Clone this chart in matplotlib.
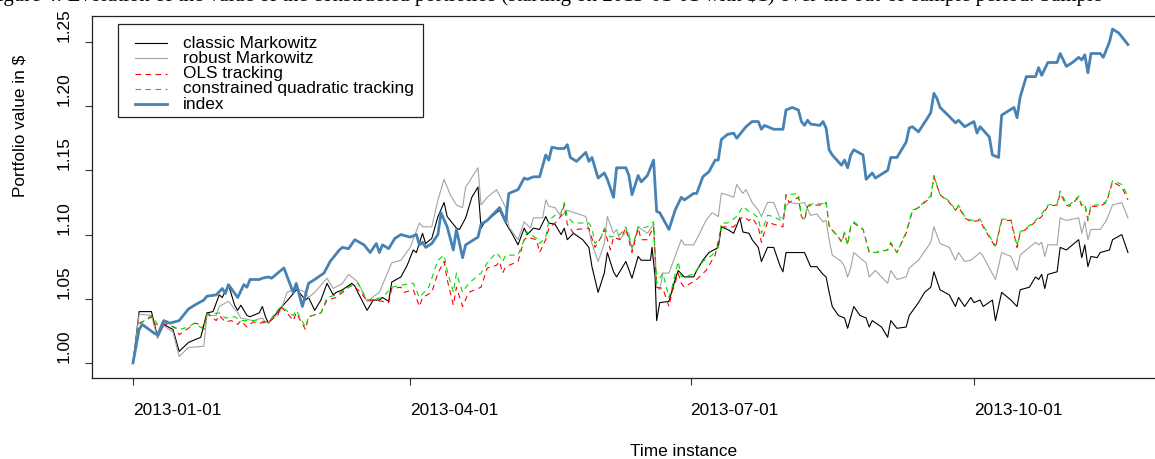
import numpy as np
import pandas as pd
import matplotlib
matplotlib.use("Agg")
import matplotlib.pyplot as plt
import matplotlib.dates as mdates
from matplotlib.patches import Rectangle
from matplotlib.lines import Line2D

plt.rcParams['font.family'] = ['Liberation Sans', 'DejaVu Sans']

# days since 2013-01-01 and portfolio values
index_days = [0, 2, 3, 7, 8, 10, 12, 15, 18, 20,
              23, 24, 27, 29, 30, 31, 34, 36, 37, 38,
              40, 41, 42, 44, 45, 49, 52, 53, 55, 57,
              59, 62, 64, 67, 68, 70, 72, 75, 77, 79,
              80, 81, 83, 85, 87, 90, 92, 93, 94, 95,
              97, 99, 100, 102, 104, 105, 107, 108, 112, 113,
              115, 119, 121, 122, 125, 127, 128, 130, 132, 134,
              135, 136, 138, 140, 141, 142, 144, 147, 148, 149,
              151, 153, 154, 156, 157, 160, 161, 162, 164, 165,
              167, 169, 170, 171, 174, 176, 178, 179, 182, 183,
              185, 187, 189, 190, 191, 193, 195, 196, 199, 201,
              203, 204, 205, 208, 211, 212, 214, 216, 217, 218,
              219, 220, 223, 224, 225, 226, 227, 230, 231, 232,
              233, 234, 237, 238, 240, 241, 245, 246, 248, 251,
              252, 253, 255, 258, 259, 260, 261, 262, 265, 267,
              268, 270, 273, 274, 275, 278, 279, 281, 282, 286,
              287, 288, 290, 293, 294, 295, 297, 300, 301, 303,
              305, 307, 308, 309, 310, 311, 314, 315, 317, 318,
              320, 323]
index_vals = [1.000, 1.026, 1.030, 1.023, 1.022, 1.033, 1.031, 1.033, 1.042, 1.045,
              1.049, 1.052, 1.053, 1.058, 1.054, 1.061, 1.051, 1.061, 1.059, 1.065,
              1.065, 1.065, 1.066, 1.067, 1.066, 1.074, 1.055, 1.062, 1.044, 1.062,
              1.065, 1.070, 1.079, 1.088, 1.090, 1.089, 1.096, 1.092, 1.086, 1.093,
              1.086, 1.092, 1.089, 1.097, 1.100, 1.098, 1.100, 1.092, 1.094, 1.090,
              1.093, 1.100, 1.117, 1.106, 1.088, 1.104, 1.082, 1.092, 1.098, 1.108,
              1.111, 1.121, 1.110, 1.132, 1.135, 1.144, 1.143, 1.145, 1.145, 1.162,
              1.158, 1.168, 1.167, 1.167, 1.170, 1.160, 1.157, 1.164, 1.157, 1.160,
              1.144, 1.148, 1.143, 1.129, 1.152, 1.152, 1.146, 1.131, 1.146, 1.141,
              1.146, 1.158, 1.118, 1.117, 1.104, 1.119, 1.129, 1.127, 1.132, 1.132,
              1.145, 1.149, 1.158, 1.158, 1.174, 1.178, 1.179, 1.175, 1.184, 1.188,
              1.188, 1.182, 1.185, 1.182, 1.182, 1.197, 1.199, 1.197, 1.188, 1.185,
              1.189, 1.186, 1.185, 1.188, 1.183, 1.166, 1.162, 1.154, 1.158, 1.152,
              1.162, 1.166, 1.162, 1.143, 1.148, 1.144, 1.150, 1.160, 1.160, 1.172,
              1.183, 1.184, 1.180, 1.191, 1.195, 1.210, 1.206, 1.199, 1.192, 1.187,
              1.189, 1.184, 1.188, 1.179, 1.184, 1.176, 1.162, 1.160, 1.193, 1.199,
              1.191, 1.207, 1.223, 1.223, 1.230, 1.224, 1.234, 1.234, 1.241, 1.231,
              1.234, 1.238, 1.236, 1.240, 1.226, 1.241, 1.241, 1.238, 1.250, 1.260,
              1.257, 1.248]

classic_days = [0, 2, 6, 8, 10, 13, 15, 18, 22, 24,
                26, 28, 29, 31, 33, 34, 35, 37, 38, 41,
                42, 43, 44, 48, 51, 53, 54, 56, 57, 59,
                61, 63, 65, 66, 68, 71, 72, 73, 76, 78,
                80, 81, 83, 84, 87, 89, 91, 92, 94, 95,
                97, 99, 101, 102, 105, 106, 108, 109, 110, 112,
                113, 114, 118, 119, 121, 123, 125, 127, 128, 130,
                132, 134, 135, 137, 139, 140, 141, 143, 146, 148,
                149, 151, 153, 154, 156, 157, 160, 162, 164, 165,
                168, 168.5, 169.5, 170, 171, 174, 176, 177, 179, 182,
                183, 185, 187, 190, 191, 193, 195, 197, 198, 200,
                201, 203, 204, 206, 208, 210, 211, 212, 214, 217,
                218, 220, 222, 224, 225, 226, 227, 229, 231, 232,
                234, 236, 238, 239, 240, 243, 245, 246, 248, 251,
                252, 255, 257, 259, 260, 262, 265, 267, 268, 270,
                272, 273, 275, 276, 279, 280, 282, 285, 287, 288,
                291, 293, 294, 295, 296, 297, 300, 301, 303, 307,
                308, 309, 310, 311, 313, 314, 317, 318, 321, 322,
                323]
classic_vals = [1.000, 1.040, 1.040, 1.020, 1.030, 1.026, 1.009, 1.016, 1.020, 1.039,
                1.040, 1.053, 1.051, 1.061, 1.045, 1.041, 1.045, 1.037, 1.036, 1.039,
                1.044, 1.036, 1.031, 1.043, 1.051, 1.057, 1.055, 1.049, 1.051, 1.041,
                1.049, 1.062, 1.053, 1.055, 1.057, 1.062, 1.060, 1.055, 1.041, 1.049,
                1.049, 1.051, 1.048, 1.063, 1.067, 1.076, 1.088, 1.086, 1.101, 1.093,
                1.097, 1.114, 1.125, 1.114, 1.105, 1.104, 1.113, 1.121, 1.129, 1.137,
                1.105, 1.109, 1.117, 1.119, 1.109, 1.101, 1.092, 1.105, 1.100, 1.105,
                1.104, 1.114, 1.109, 1.108, 1.100, 1.105, 1.096, 1.101, 1.096, 1.090,
                1.075, 1.055, 1.070, 1.086, 1.071, 1.067, 1.079, 1.066, 1.083, 1.080,
                1.080, 1.090, 1.067, 1.033, 1.047, 1.048, 1.065, 1.072, 1.067, 1.067,
                1.072, 1.080, 1.086, 1.090, 1.106, 1.104, 1.101, 1.113, 1.102, 1.101,
                1.096, 1.090, 1.079, 1.090, 1.090, 1.076, 1.071, 1.086, 1.086, 1.086,
                1.086, 1.075, 1.075, 1.069, 1.067, 1.055, 1.044, 1.037, 1.035, 1.027,
                1.044, 1.037, 1.035, 1.028, 1.033, 1.028, 1.020, 1.033, 1.027, 1.028,
                1.037, 1.047, 1.055, 1.059, 1.071, 1.057, 1.053, 1.044, 1.051, 1.044,
                1.051, 1.047, 1.049, 1.044, 1.049, 1.033, 1.055, 1.049, 1.044, 1.057,
                1.059, 1.067, 1.065, 1.069, 1.058, 1.069, 1.071, 1.090, 1.088, 1.096,
                1.082, 1.092, 1.075, 1.083, 1.082, 1.086, 1.088, 1.096, 1.100, 1.093,
                1.086]

robust_days = [0, 2, 6, 8, 10, 13, 15, 18, 23, 24,
               27, 28, 31, 34, 35, 39, 42, 43, 44, 48,
               50, 53, 56, 57, 59, 63, 65, 68, 70, 73,
               76, 80, 84, 87, 90, 93, 94, 97, 99, 101,
               103, 105, 107, 108, 112, 113, 115, 118, 121, 122,
               125, 127, 129, 130, 133, 134, 135, 137, 139, 141,
               147, 149, 151, 153, 154, 156, 157, 158, 160, 161,
               162, 164, 167, 169, 170, 171, 172, 174, 176, 178,
               179, 182, 184, 186, 188, 190, 191, 193, 195, 196,
               198, 199, 201, 203, 204, 206, 208, 210, 211, 212,
               213, 216, 218, 220, 222, 224, 225, 226, 227, 230,
               231, 232, 233, 234, 238, 239, 241, 245, 246, 248,
               251, 252, 255, 259, 260, 262, 265, 267, 268, 270,
               272, 275, 276, 280, 282, 285, 287, 288, 291, 293,
               294, 295, 296, 297, 300, 301, 303, 307, 308, 309,
               310, 311, 314, 316, 318, 321, 323]
robust_vals = [1.000, 1.038, 1.037, 1.019, 1.029, 1.024, 1.005, 1.012, 1.013, 1.037,
               1.037, 1.044, 1.048, 1.039, 1.035, 1.033, 1.035, 1.032, 1.031, 1.041,
               1.055, 1.058, 1.055, 1.051, 1.055, 1.066, 1.058, 1.062, 1.069, 1.063,
               1.048, 1.055, 1.078, 1.080, 1.090, 1.109, 1.106, 1.106, 1.127, 1.143,
               1.131, 1.123, 1.121, 1.137, 1.152, 1.123, 1.129, 1.135, 1.121, 1.106,
               1.096, 1.110, 1.105, 1.113, 1.113, 1.127, 1.122, 1.121, 1.114, 1.119,
               1.114, 1.093, 1.079, 1.093, 1.114, 1.101, 1.104, 1.096, 1.102, 1.101,
               1.088, 1.106, 1.101, 1.108, 1.059, 1.057, 1.070, 1.070, 1.083, 1.096,
               1.092, 1.092, 1.101, 1.111, 1.117, 1.114, 1.132, 1.131, 1.129, 1.139,
               1.132, 1.135, 1.125, 1.119, 1.114, 1.125, 1.125, 1.113, 1.113, 1.122,
               1.125, 1.124, 1.125, 1.115, 1.116, 1.110, 1.111, 1.096, 1.084, 1.079,
               1.075, 1.067, 1.074, 1.086, 1.078, 1.067, 1.072, 1.062, 1.072, 1.065,
               1.067, 1.074, 1.080, 1.094, 1.106, 1.093, 1.090, 1.080, 1.086, 1.079,
               1.080, 1.086, 1.083, 1.065, 1.086, 1.083, 1.072, 1.084, 1.090, 1.094,
               1.092, 1.094, 1.083, 1.092, 1.092, 1.113, 1.111, 1.113, 1.101, 1.110,
               1.096, 1.104, 1.104, 1.111, 1.123, 1.125, 1.113]

ols_days = [0, 2, 4, 6, 7, 9, 11, 14, 15, 18,
            20, 22, 23, 24, 27, 28, 30, 32, 34, 35,
            37, 39, 41, 44, 47, 48, 50, 52, 53, 56,
            57, 61, 63, 66, 68, 71, 74, 76, 78, 81,
            83, 84, 87, 88, 91, 93, 94, 97, 99, 101,
            102, 104, 105, 107, 109, 113, 115, 118, 119, 120,
            121, 125, 127, 128, 131, 132, 134, 135, 138, 139,
            140, 141, 143, 144, 148, 149, 150, 152, 153, 155,
            156, 158, 160, 162, 164, 165, 167, 169, 170, 172,
            174, 175, 177, 178, 179, 183, 186, 189, 191, 193,
            195, 196, 198, 200, 201, 203, 204, 206, 208, 211,
            212, 213, 216, 217, 218, 219, 221, 224, 225, 226,
            229, 230, 231, 232, 233, 234, 237, 239, 241, 245,
            246, 248, 251, 253, 255, 257, 259, 260, 262, 265,
            267, 268, 270, 272, 275, 276, 280, 282, 285, 287,
            288, 291, 293, 295, 297, 300, 301, 303, 304, 307,
            308, 309, 310, 311, 314, 316, 318, 321, 323]
ols_vals = [1.000, 1.031, 1.033, 1.036, 1.030, 1.031, 1.030, 1.027, 1.022, 1.027,
            1.031, 1.030, 1.026, 1.039, 1.033, 1.037, 1.032, 1.033, 1.030, 1.033,
            1.028, 1.032, 1.031, 1.032, 1.037, 1.044, 1.039, 1.033, 1.039, 1.026,
            1.036, 1.039, 1.049, 1.051, 1.055, 1.061, 1.055, 1.048, 1.049, 1.048,
            1.047, 1.058, 1.059, 1.055, 1.057, 1.044, 1.051, 1.055, 1.070, 1.079,
            1.065, 1.045, 1.059, 1.044, 1.055, 1.059, 1.074, 1.076, 1.079, 1.070,
            1.075, 1.079, 1.096, 1.098, 1.096, 1.086, 1.096, 1.105, 1.111, 1.115,
            1.123, 1.108, 1.101, 1.104, 1.105, 1.097, 1.090, 1.098, 1.104, 1.088,
            1.098, 1.096, 1.105, 1.086, 1.105, 1.096, 1.096, 1.106, 1.059, 1.058,
            1.044, 1.055, 1.070, 1.062, 1.059, 1.065, 1.072, 1.084, 1.106, 1.106,
            1.106, 1.109, 1.114, 1.111, 1.113, 1.106, 1.094, 1.110, 1.108, 1.106,
            1.131, 1.125, 1.129, 1.114, 1.111, 1.122, 1.123, 1.123, 1.125, 1.106,
            1.098, 1.094, 1.101, 1.092, 1.106, 1.109, 1.104, 1.086, 1.086, 1.088,
            1.093, 1.086, 1.101, 1.118, 1.121, 1.125, 1.129, 1.145, 1.131, 1.125,
            1.119, 1.122, 1.113, 1.110, 1.111, 1.106, 1.090, 1.111, 1.111, 1.090,
            1.101, 1.106, 1.110, 1.114, 1.122, 1.123, 1.132, 1.123, 1.122, 1.129,
            1.122, 1.123, 1.111, 1.122, 1.122, 1.125, 1.141, 1.137, 1.127]

cqt_days = [0, 2, 6, 8, 11, 15, 18, 20, 23, 24,
            28, 30, 33, 35, 39, 44, 48, 52, 53, 56,
            57, 61, 63, 66, 70, 73, 76, 81, 84, 88,
            91, 93, 96, 99, 101, 102, 104, 105, 107, 109,
            113, 115, 118, 119, 120, 121, 125, 127, 128, 131,
            132, 134, 135, 137, 139, 140, 141, 143, 148, 149,
            150, 152, 153, 155, 158, 160, 162, 164, 165, 167,
            169, 170, 172, 174, 175, 177, 178, 182, 185, 188,
            190, 191, 193, 196, 198, 200, 201, 203, 204, 206,
            208, 211, 212, 213, 216, 217, 218, 219, 221, 224,
            225, 226, 229, 230, 231, 232, 233, 234, 237, 239,
            241, 245, 246, 248, 251, 253, 255, 257, 259, 260,
            262, 265, 267, 268, 270, 272, 275, 276, 280, 282,
            285, 287, 288, 291, 293, 295, 297, 300, 301, 303,
            304, 307, 308, 309, 310, 311, 314, 316, 318, 321,
            323]
cqt_vals = [1.000, 1.030, 1.037, 1.030, 1.031, 1.026, 1.028, 1.031, 1.026, 1.038,
            1.039, 1.035, 1.036, 1.033, 1.033, 1.032, 1.044, 1.037, 1.041, 1.028,
            1.036, 1.039, 1.051, 1.053, 1.059, 1.062, 1.049, 1.051, 1.059, 1.061,
            1.062, 1.051, 1.059, 1.080, 1.084, 1.072, 1.055, 1.070, 1.055, 1.062,
            1.070, 1.078, 1.086, 1.083, 1.079, 1.084, 1.084, 1.096, 1.102, 1.097,
            1.093, 1.098, 1.111, 1.115, 1.117, 1.125, 1.114, 1.109, 1.109, 1.105,
            1.093, 1.098, 1.105, 1.098, 1.100, 1.106, 1.090, 1.106, 1.105, 1.106,
            1.110, 1.062, 1.070, 1.051, 1.059, 1.079, 1.067, 1.069, 1.079, 1.084,
            1.090, 1.109, 1.109, 1.114, 1.122, 1.118, 1.117, 1.113, 1.101, 1.115,
            1.114, 1.110, 1.131, 1.131, 1.132, 1.114, 1.112, 1.123, 1.124, 1.124,
            1.126, 1.107, 1.098, 1.095, 1.102, 1.092, 1.107, 1.110, 1.104, 1.087,
            1.086, 1.088, 1.094, 1.086, 1.102, 1.119, 1.121, 1.126, 1.130, 1.146,
            1.131, 1.126, 1.119, 1.123, 1.114, 1.111, 1.112, 1.107, 1.091, 1.112,
            1.112, 1.091, 1.102, 1.107, 1.111, 1.116, 1.123, 1.124, 1.134, 1.124,
            1.123, 1.130, 1.123, 1.124, 1.112, 1.123, 1.123, 1.126, 1.142, 1.139,
            1.130]

labels = ["classic Markowitz", "robust Markowitz", "OLS tracking",
          "constrained quadratic tracking", "index"]
start = pd.Timestamp("2013-01-01")


def to_dates(days):
    return start + pd.to_timedelta(np.array(days, dtype=float), unit="D")


W, H = 1155, 459
fig = plt.figure(figsize=(W / 100, H / 100), dpi=100)
# plot region in pixels: left 92, top 16, bottom 378; right edge (1168) is past the crop
ax = fig.add_axes([92 / W, 1 - 378 / H, 1076 / W, 362 / H])

styles = [
    dict(color="black", lw=0.8, ls="-"),
    dict(color="#a3a3a3", lw=0.8, ls="-"),
    dict(color="red", lw=0.8, ls=(0, (5, 4))),
    dict(color="#00dd00", lw=0.8, ls=(0, (5, 4))),
    dict(color="steelblue", lw=2.0, ls="-"),
]
series = [(classic_days, classic_vals), (robust_days, robust_vals),
          (ols_days, ols_vals), (cqt_days, cqt_vals), (index_days, index_vals)]

for (d, v), st in zip(series, styles):
    ax.plot(to_dates(d), v, color=st["color"], lw=st["lw"], ls=st["ls"])

base = mdates.date2num(start)
ax.set_xlim(base - 13.3, base + 336.0)
ax.set_ylim(0.9883, 1.2702)

ax.xaxis.set_major_locator(mdates.MonthLocator(bymonth=[1, 4, 7, 10]))
ax.xaxis.set_major_formatter(mdates.DateFormatter("%Y-%m-%d"))
ax.set_yticks([1.00, 1.05, 1.10, 1.15, 1.20, 1.25])
ax.set_yticklabels(["1.00", "1.05", "1.10", "1.15", "1.20", "1.25"],
                   rotation=90, va="bottom")
ax.tick_params(axis="both", direction="out", length=5, width=0.8,
               labelsize=12.4, color="#333333")
ax.tick_params(axis="x", pad=13)
ax.tick_params(axis="y", pad=10)
# in the source the tick texts start at the tick instead of being centred on it
for t in ax.get_xticklabels():
    t.set_ha("left")
for s in ax.spines.values():
    s.set_linewidth(0.9)
    s.set_color("#222222")

fig.text(630 / W, 1 - 452 / H, "Time instance", ha="left", va="center",
         fontsize=12.4)
fig.text(20 / W, 1 - 197 / H, "Portfolio value in $", ha="center",
         va="bottom", rotation=90, fontsize=12.4)

# caption line, cut off by the top edge of the image
fig.text(-14 / W, 1 - 1.5 / H,
         "Figure 4: Evolution of the value of the constructed portfolios "
         "(starting on 2013-01-01 with $1) over the out-of-sample period. Sample",
         ha="left", va="baseline", fontsize=15,
         family=["Liberation Serif", "DejaVu Serif"])

# legend box drawn like R's legend()
fig.patches.append(Rectangle((118 / W, 1 - 117 / H), 305 / W, 93 / H,
                             transform=fig.transFigure, fill=False,
                             edgecolor="#222222", lw=0.9))
for i, (lab, st) in enumerate(zip(labels, styles)):
    yy = 1 - (43 + i * 15.3) / H
    fig.lines.append(Line2D([135 / W, 167 / W], [yy, yy],
                            transform=fig.transFigure, color=st["color"],
                            lw=st["lw"], ls=st["ls"]))
    fig.text(183 / W, yy, lab, ha="left", va="center", fontsize=12.4)

fig.savefig("out.png", dpi=100)
